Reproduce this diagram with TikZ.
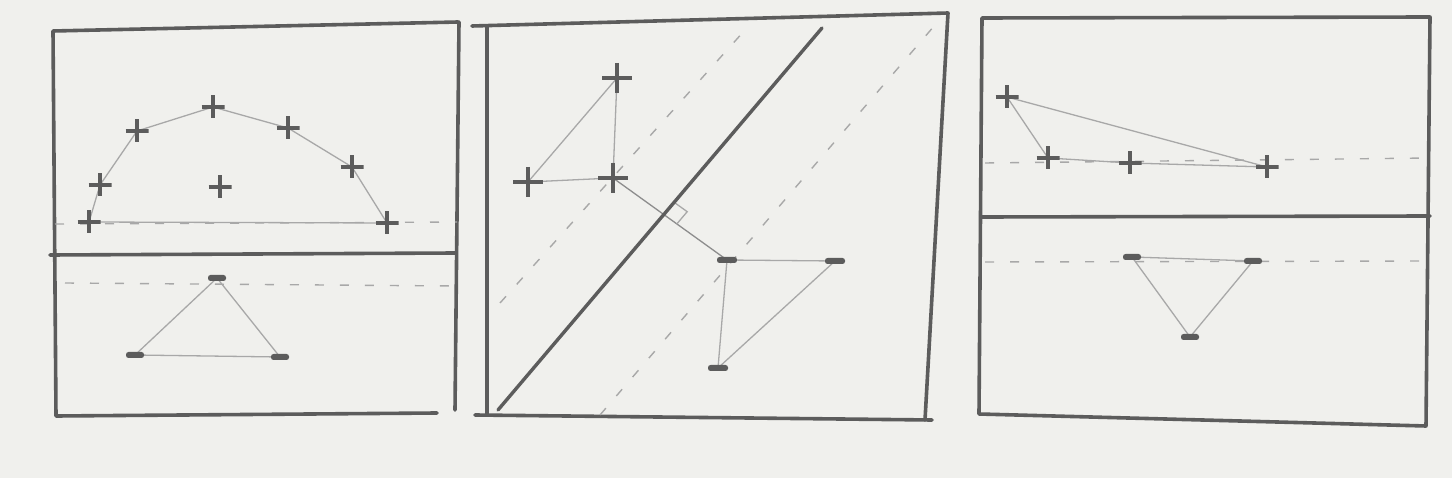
\documentclass[tikz,border=0pt]{standalone}
\usepackage{xcolor}
\usepackage{tikz}
\usetikzlibrary{calc,backgrounds}
\definecolor{paper}{RGB}{240,240,237}
\definecolor{pencil}{RGB}{92,92,92}
\definecolor{faint}{RGB}{168,168,168}

\begin{document}
\begin{tikzpicture}[
  x=1pt, y=-1pt,
  frame/.style={draw=pencil, line width=3.6pt, line join=round, line cap=round},
  hull/.style={draw=faint, line width=1.3pt},
  margin/.style={draw=faint, line width=1.4pt, dash pattern=on 9pt off 16pt},
  plus/.style={minimum size=23pt, inner sep=0pt, path picture={
      \draw[pencil, line width=3.2pt]
        (path picture bounding box.west) -- (path picture bounding box.east)
        (path picture bounding box.north) -- (path picture bounding box.south);}},
  minus/.style={fill=pencil, minimum width=18pt, minimum height=6pt, inner sep=0pt, rounded corners=2.5pt},
  sepline/.style={draw=pencil, line width=3.4pt, line cap=round}
]
\useasboundingbox (0,0) rectangle (1452,478);
\begin{pgfonlayer}{background}
  \fill[paper] (0,0) rectangle (1452,478);
\end{pgfonlayer}

% left panel
\draw[frame] (458,22) -- (53,31) -- (56,416) -- (437,413);
\draw[frame] (459,22) -- (455,410);
\draw[frame] (50,255) -- (456,253);
\draw[margin] (55,224) -- (457,222);
\draw[margin] (65,283) -- (455,286);
\foreach \n/\x/\y in {pa/89/222, pb/100/185, pc/137/131, pd/213/107,
                      pe/288/128, pf/352/167, pg/387/223, ph/220/187}
  \node[plus] (\n) at (\x,\y) {};
\foreach \n/\x/\y in {ma/217/278, mb/135/355, mc/280/357}
  \node[minus] (\n) at (\x,\y) {};
\begin{pgfonlayer}{background}
  \draw[hull] (pa.center) -- (pb.center) -- (pc.center) -- (pd.center) -- (pe.center)
    -- (pf.center) -- (pg.center) -- (pa.center);
  \draw[hull] (ma.center) -- (mb.center) -- (mc.center) -- (ma.center);
\end{pgfonlayer}

% middle panel
\draw[frame] (472,26) -- (948,13) -- (925,420);
\draw[frame] (487,27) -- (487,415);
\draw[frame] (475,415) -- (932,420);
\coordinate (sepA) at (498,410);
\coordinate (sepB) at (822,28);
\draw[margin] (500,303) -- (745,30);
\draw[margin] (600,415) -- (935,25);
\draw[sepline] (sepA) -- (sepB);
\foreach \n/\x/\y in {sa/617/78, sb/528/182, sc/613/178}
  \node[plus, minimum size=30pt] (\n) at (\x,\y) {};
\foreach \n/\x/\y in {sd/727/260, se/835/261, sf/718/368}
  \node[minus, minimum width=20pt] (\n) at (\x,\y) {};
\coordinate (foot) at (intersection of sc.center--sd.center and sepA--sepB);
\coordinate (ra1) at ($(foot)!16pt!(sepB)$);
\coordinate (ra2) at ($(foot)!16pt!(sd.center)$);
\begin{pgfonlayer}{background}
  \draw[hull] (sa.center) -- (sb.center) -- (sc.center) -- (sa.center);
  \draw[hull] (sd.center) -- (se.center) -- (sf.center) -- (sd.center);
  \draw[hull, draw=pencil!70] (sc.center) -- (sd.center);
  \draw[hull] (ra1) -- ($(ra1)+(ra2)-(foot)$) -- (ra2);
\end{pgfonlayer}

% right panel
\draw[frame] (982,18) -- (1430,17) -- (1426,426) -- (979,414) -- cycle;
\draw[frame] (982,217) -- (1430,216);
\draw[margin] (985,163) -- (1430,158);
\draw[margin] (985,262) -- (1430,261);
\foreach \n/\x/\y in {qa/1007/97, qb/1048/158, qc/1130/163, qd/1267/167}
  \node[plus] (\n) at (\x,\y) {};
\foreach \n/\x/\y in {ra/1132/257, rb/1253/261, rc/1190/337}
  \node[minus] (\n) at (\x,\y) {};
\begin{pgfonlayer}{background}
  \draw[hull] (qa.center) -- (qb.center) -- (qc.center) -- (qd.center) -- (qa.center);
  \draw[hull] (ra.center) -- (rb.center) -- (rc.center) -- (ra.center);
\end{pgfonlayer}
\end{tikzpicture}
\end{document}
